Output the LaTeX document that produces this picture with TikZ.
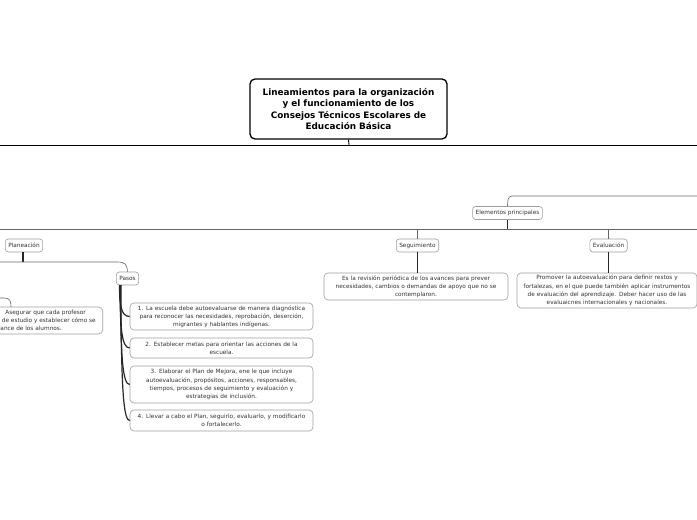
\documentclass[tikz,border=0pt]{standalone}
\usepackage{fontspec}
\setmainfont{DejaVu Sans}
\begin{document}
\begin{tikzpicture}[x=1bp,y=-1bp,
  titlebox/.style={draw=black,line width=1.3bp,rounded corners=5bp,fill=white,
    minimum width=197bp,minimum height=60bp,text width=194bp,align=center,
    font=\bfseries\fontsize{8.9}{11.3}\selectfont,inner sep=0pt},
  topic/.style={draw=gray!75,line width=0.6bp,rounded corners=3bp,fill=white,
    text=black!80,font=\fontsize{5.8}{6.8}\selectfont,inner xsep=3bp,inner ysep=0pt,minimum height=13bp},
  leaf/.style={draw=gray!75,line width=0.6bp,rounded corners=4bp,fill=white,
    text=black!80,font=\fontsize{5.8}{8.2}\selectfont,align=center,inner sep=0pt},
  thin/.style={draw=gray!80!black,line width=0.6bp},
  thick/.style={draw=black!85,line width=1.2bp},
  main/.style={draw=black,line width=0.9bp}]
\clip (0,0) rectangle (697,520);
\fill[white] (0,0) rectangle (697,520);

% coordinates for off-picture ends
\coordinate (L145) at (0,145);
\coordinate (R145) at (697,145);
\coordinate (L229) at (0,229);
\coordinate (R229) at (697,229);
\coordinate (R196) at (697,196);
\coordinate (L262) at (0,262);
\coordinate (L298) at (0,298);
\coordinate (J145) at (349,145);

% title
\node[titlebox] (title) at (348.5,109) {Lineamientos para la organización\\y el funcionamiento de los\\Consejos Técnicos Escolares de\\Educación Básica};
\draw[main] (L145) -- (R145);
\draw[main] (title.south) -- (J145);

% elementos principales
\node[topic] (elem) at (507.5,213) {Elementos principales};
\draw[thin] (R196) -- (512,196) to[out=180,in=90] (elem.north -| 507.5,200) -- (elem.north);
\draw[thin] (L229) -- (R229);
\draw[thick] (elem.south) -- (elem.south |- L229);

% planeacion
\node[topic] (plan) at (24,245.5) {Planeación};
\draw[thin] (plan.north -| 23,229) -- (plan.north -| 23,0);
\draw[thick] (23,252) -- (23,262);
\node[topic] (pasos) at (127.5,278.5) {Pasos};
\draw[thin] (L262) -- (117,262) .. controls (125,262) and (127,264) .. (pasos.north);

% clipped left box
\node[leaf,minimum width=170bp,minimum height=27bp,anchor=east] (aseg) at (103,320.5) {};
\node[font=\fontsize{5.8}{8.2}\selectfont,text=black!80,align=right,inner sep=0pt,anchor=east] (asegt) at (96,320.5)
  {Asegurar que cada profesor\hspace*{10bp}\\de estudio y establecer cómo se\\avance de los alumnos.\hspace*{34bp}};
\draw[thin] (L298) -- (4,298) .. controls (10,298) and (11,301) .. (11,307);

% pasos leaves
\node[leaf,minimum width=183bp,minimum height=27bp,text width=181bp] (p1) at (221.5,316.5)
  {1. La escuela debe autoevaluarse de manera diagnóstica\\para reconocer las necesidades, reprobación, deserción,\\migrantes y hablantes indígenas.};
\node[leaf,minimum width=183bp,minimum height=20bp,text width=181bp] (p2) at (221.5,348)
  {2. Establecer metas para orientar las acciones de la\\escuela.};
\node[leaf,minimum width=183bp,minimum height=37bp,text width=181bp] (p3) at (221.5,384.5)
  {3. Elaborar el Plan de Mejora, ene le que incluye\\autoevaluación, propósitos, acciones, responsables,\\tiempos, procesos de seguimiento y evaluación y\\estrategias de inclusión.};
\node[leaf,minimum width=183bp,minimum height=21bp,text width=181bp] (p4) at (221.5,420.5)
  {4. Llevar a cabo el Plan, seguirlo, evaluarlo, y modificarlo\\o fortalecerlo.};
\draw[thick] (119.5,285) .. controls (119.5,305) and (121,316.5) .. (p1.west);
\draw[thick] (120,285) .. controls (120,330) and (122,348) .. (p2.west);
\draw[thick] (120.5,285) .. controls (120.5,360) and (123,384.5) .. (p3.west);
\draw[thick] (121,285) .. controls (121,395) and (124,420.5) .. (p4.west);

% seguimiento
\node[topic] (seg) at (417.5,245.5) {Seguimiento};
\draw[thin] (seg.north |- L229) -- (seg.north);
\node[leaf,minimum width=184bp,minimum height=27bp,text width=182bp] (segb) at (416,286.5)
  {Es la revisión periódica de los avances para prever\\necesidades, cambios o demandas de apoyo que no se\\contemplaron.};
\draw[thick] (seg.south) -- (seg.south |- segb.north);

% evaluacion
\node[topic] (eval) at (608.5,245.5) {Evaluación};
\draw[thin] (eval.north |- L229) -- (eval.north);
\node[leaf,minimum width=180bp,minimum height=35bp,text width=178bp] (evalb) at (607,290.5)
  {Promover la autoevaluación para definir restos y\\fortalezas, en el que puede también aplicar instrumentos\\de evaluación del aprendizaje. Deber hacer uso de las\\evaluaicnes internacionales y nacionales.};
\draw[thick] (eval.south) -- (eval.south |- evalb.north);
\end{tikzpicture}
\end{document}
